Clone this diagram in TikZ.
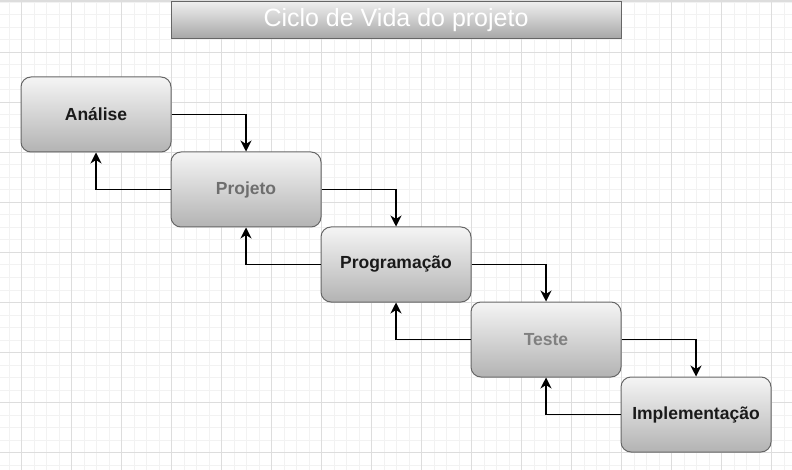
\documentclass[tikz,border=0pt]{standalone}
\usepackage{fontspec}
\setmainfont{Liberation Sans}
\usepackage{xcolor}
\usetikzlibrary{arrows.meta}

\definecolor{boxtop}{HTML}{F5F5F5}
\definecolor{boxbottom}{HTML}{B3B3B3}
\definecolor{boxline}{HTML}{666666}
\definecolor{titletop}{HTML}{EEEEEE}
\definecolor{titlebottom}{HTML}{A6A6A6}
\definecolor{textdark}{HTML}{1A1A1A}
\definecolor{textmid}{HTML}{6E6E6E}
\definecolor{textlight}{HTML}{808080}
\definecolor{minorgrid}{HTML}{F2F2F2}
\definecolor{majorgrid}{HTML}{DDDDDD}

\tikzset{
  stage/.style={draw=boxline, line width=1pt, rounded corners=10pt,
    top color=boxtop, bottom color=boxbottom,
    minimum width=150pt, minimum height=75pt,
    font=\bfseries\fontsize{17.5}{20}\selectfont},
  flow/.style={line width=1.3pt, -{Stealth[length=11pt, width=11pt, inset=3.5pt]}}
}

\begin{document}
\begin{tikzpicture}[x=1pt, y=-1pt]

\def \dx {150}
\def \dy {75}
\def \stages {Análise/textdark, Projeto/textmid, Programação/textdark, Teste/textlight, Implementação/textdark}

\useasboundingbox (0,0) rectangle (792,470);
\fill[white] (0,0) rectangle (792,470);

% grid of the canvas
\foreach \x in {9,21.5,...,792} \draw[minorgrid, line width=1pt] (\x,0) -- (\x,470);
\foreach \y in {2.5,15,...,470} \draw[minorgrid, line width=1pt] (0,\y) -- (792,\y);
\foreach \x in {21.5,71.5,...,792} \draw[majorgrid, line width=1pt] (\x,0) -- (\x,470);
\foreach \y in {52.5,102.5,...,470} \draw[majorgrid, line width=1pt] (0,\y) -- (792,\y);
\draw[majorgrid, line width=2pt] (0,1) -- (792,1);

\node[draw=boxline, line width=1pt, top color=titletop, bottom color=titlebottom,
  minimum width=450pt, minimum height=37pt, text=white,
  font=\fontsize{25}{28}\selectfont] (title) at (396,20.5) {Ciclo de Vida do projeto};

\foreach \t/\c [count=\s] in \stages
{
  \node[stage, text=\c] (s\s) at ({96+\dx*(\s-1)},{114.5+\dy*(\s-1)}) {\t};
}

\foreach \s [count=\n from 2] in {1,...,4}
{
  \draw[flow] (s\s.east) -| (s\n.north);
  \draw[flow] (s\n.west) -| (s\s.south);
}
\end{tikzpicture}
\end{document}
